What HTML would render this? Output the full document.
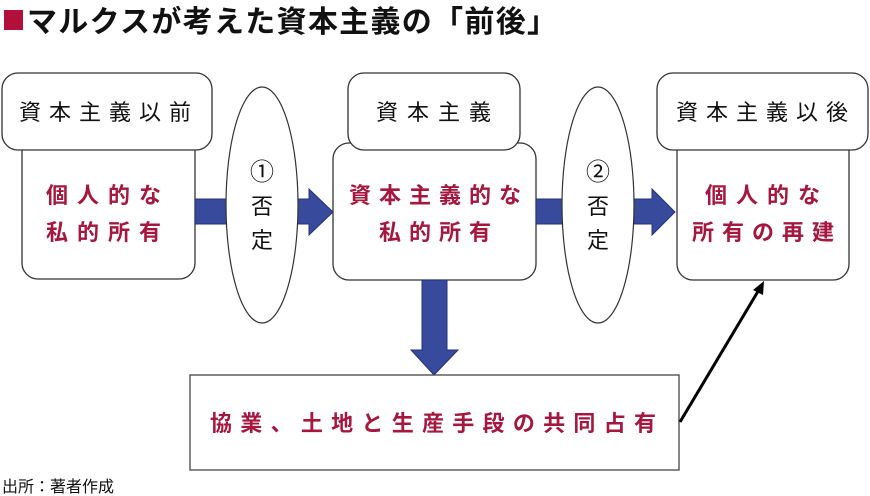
<!DOCTYPE html>
<html><head><meta charset="utf-8"><style>
html,body{margin:0;padding:0;background:#fff;}
svg{display:block;}
text{font-family:"Liberation Sans","Noto Sans CJK JP",sans-serif;}
</style></head><body>
<svg width="870" height="496" viewBox="0 0 870 496" xmlns="http://www.w3.org/2000/svg">
<rect x="4" y="10" width="19" height="20" fill="#b0103a"/>
<text x="27" y="32" font-size="30" font-weight="bold" fill="#111" textLength="530" lengthAdjust="spacing">マルクスが考えた資本主義の「前後」</text>

<!-- box1 -->
<rect x="22" y="135" width="173" height="144" rx="16" fill="#fff" stroke="#333" stroke-width="1.3"/>
<rect x="2" y="73" width="210" height="77" rx="16" fill="#fff" stroke="#333" stroke-width="1.3"/>
<text x="109" y="120" font-size="22" text-anchor="middle" letter-spacing="8" fill="#111">資本主義以前</text>
<text x="108" y="203" font-size="22" font-weight="bold" text-anchor="middle" letter-spacing="9" fill="#a5173f">個人的な</text>
<text x="108" y="240" font-size="22" font-weight="bold" text-anchor="middle" letter-spacing="9" fill="#a5173f">私的所有</text>

<!-- arrow1 -->
<rect x="195" y="199" width="32" height="25" fill="#384a9c" stroke="#243378"/>
<polygon points="297,199 309,199 309,189 333,212 309,235 309,224 297,224" fill="#384a9c" stroke="#243378"/>
<ellipse cx="262" cy="205" rx="36" ry="118" fill="#fff" stroke="#333" stroke-width="1.2"/>
<text x="262" y="180" font-size="24" text-anchor="middle" fill="#111">①</text>
<text x="262" y="214" font-size="22" text-anchor="middle" fill="#111">否</text>
<text x="262" y="248" font-size="22" text-anchor="middle" fill="#111">定</text>

<!-- box2 -->
<rect x="333" y="143" width="203" height="137" rx="16" fill="#fff" stroke="#333" stroke-width="1.3"/>
<rect x="348" y="73" width="172" height="77" rx="16" fill="#fff" stroke="#333" stroke-width="1.3"/>
<text x="438" y="120" font-size="22" text-anchor="middle" letter-spacing="9" fill="#111">資本主義</text>
<text x="439" y="203" font-size="22" font-weight="bold" text-anchor="middle" letter-spacing="8" fill="#a5173f">資本主義的な</text>
<text x="439" y="240" font-size="22" font-weight="bold" text-anchor="middle" letter-spacing="8" fill="#a5173f">私的所有</text>

<!-- arrow2 -->
<rect x="536" y="199" width="28" height="25" fill="#384a9c" stroke="#243378"/>
<polygon points="634,199 652,199 652,189 675,212 652,235 652,224 634,224" fill="#384a9c" stroke="#243378"/>
<ellipse cx="598" cy="205" rx="36" ry="118" fill="#fff" stroke="#333" stroke-width="1.2"/>
<text x="598" y="180" font-size="24" text-anchor="middle" fill="#111">②</text>
<text x="598" y="214" font-size="22" text-anchor="middle" fill="#111">否</text>
<text x="598" y="248" font-size="22" text-anchor="middle" fill="#111">定</text>

<!-- box3 -->
<rect x="677" y="135" width="172" height="145" rx="16" fill="#fff" stroke="#333" stroke-width="1.3"/>
<rect x="657" y="73" width="211" height="77" rx="16" fill="#fff" stroke="#333" stroke-width="1.3"/>
<text x="766" y="120" font-size="22" text-anchor="middle" letter-spacing="8" fill="#111">資本主義以後</text>
<text x="767" y="203" font-size="22" font-weight="bold" text-anchor="middle" letter-spacing="9" fill="#a5173f">個人的な</text>
<text x="767" y="240" font-size="22" font-weight="bold" text-anchor="middle" letter-spacing="8" fill="#a5173f">所有の再建</text>

<!-- down arrow -->
<polygon points="422,280 447,280 447,350 458,350 434,375 411,350 422,350" fill="#384a9c" stroke="#243378"/>

<!-- bottom box -->
<rect x="190" y="375" width="489" height="95" fill="#fff" stroke="#444" stroke-width="1.3"/>
<text x="210" y="431" font-size="22" font-weight="bold" fill="#a5173f" textLength="446" lengthAdjust="spacing">協業、土地と生産手段の共同占有</text>

<!-- black arrow -->
<line x1="680" y1="422" x2="760" y2="288" stroke="#000" stroke-width="3"/>
<polygon points="764,281 753,290 763,295" fill="#000"/>

<text x="2" y="492" font-size="16" fill="#111">出所：著者作成</text>
</svg>
</body></html>
